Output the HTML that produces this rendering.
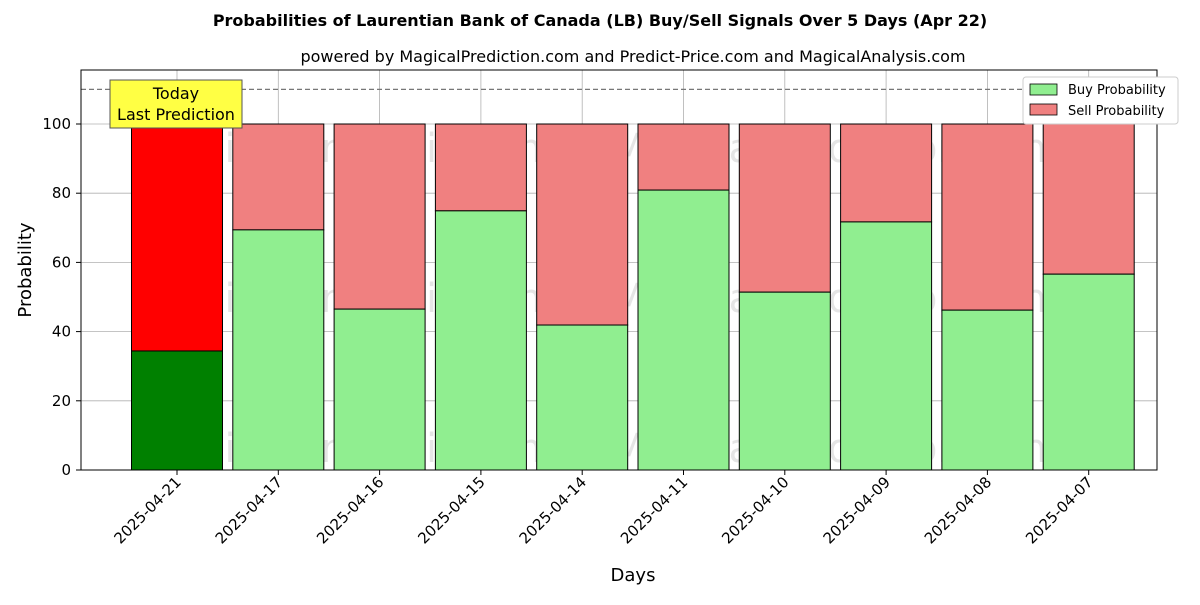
<!DOCTYPE html>
<html><head><meta charset="utf-8"><style>
body{margin:0;background:#fff;font-family:"Liberation Sans","DejaVu Sans",sans-serif}
svg text{font-family:"DejaVu Sans","Liberation Sans",sans-serif}
</style></head><body>
<svg id="chart" width="1200" height="600" viewBox="0 0 1200 600" xmlns="http://www.w3.org/2000/svg">
<rect width="1200" height="600" fill="#fff"/>
<text x="600" y="26" text-anchor="middle" font-size="16" font-weight="bold">Probabilities of Laurentian Bank of Canada (LB) Buy/Sell Signals Over 5 Days (Apr 22)</text>
<text x="633" y="62" text-anchor="middle" font-size="16">powered by MagicalPrediction.com and Predict-Price.com and MagicalAnalysis.com</text>
<g id="grid"></g>
<g id="watermarks" font-size="40" fill="#000" fill-opacity="0.1">
<text x="348" y="162" text-anchor="middle">MagicalAnalysis.com</text>
<text x="836" y="162" text-anchor="middle">MagicalPrediction.com</text>
<text x="348" y="312" text-anchor="middle">MagicalAnalysis.com</text>
<text x="836" y="312" text-anchor="middle">MagicalPrediction.com</text>
<text x="348" y="462" text-anchor="middle">MagicalAnalysis.com</text>
<text x="836" y="462" text-anchor="middle">MagicalPrediction.com</text>
</g>
<g id="bars"></g>
<line x1="81" x2="1157" y1="89.4" y2="89.4" stroke="#777" stroke-dasharray="5,3" stroke-width="1.2"/>
<rect x="81" y="70" width="1076" height="400" fill="none" stroke="#000" stroke-width="1"/>
<g id="axes"></g>
<g>
<rect x="110" y="80" width="132" height="48" fill="#ffff44" stroke="#555" stroke-width="1"/>
<text x="176" y="99" text-anchor="middle" font-size="16">Today</text>
<text x="176" y="120" text-anchor="middle" font-size="16">Last Prediction</text>
</g>
<g>
<rect x="1023" y="77" width="155" height="47" fill="#fff" stroke="#ccc" rx="3"/>
<rect x="1030" y="84" width="27" height="11" fill="#90ee90" stroke="#000" stroke-width="0.8"/>
<text x="1068" y="94" font-size="13">Buy Probability</text>
<rect x="1030" y="104" width="27" height="11" fill="#f08080" stroke="#000" stroke-width="0.8"/>
<text x="1068" y="115" font-size="13">Sell Probability</text>
</g>
<text x="633" y="581" text-anchor="middle" font-size="18">Days</text>
<text transform="translate(31,270) rotate(-90)" text-anchor="middle" font-size="18">Probability</text>
</svg>
<script>
const categories=["2025-04-21","2025-04-17","2025-04-16","2025-04-15","2025-04-14","2025-04-11","2025-04-10","2025-04-09","2025-04-08","2025-04-07"];
const buyValues=[34.4,69.4,46.5,74.9,41.9,80.9,51.4,71.7,46.2,56.6];
const yTicks=[0,20,40,60,80,100];
const NS="http://www.w3.org/2000/svg";
const x=i=>177+i*101.3;
const y=v=>470-v*3.46;
function mk(tag,attrs,parent){const e=document.createElementNS(NS,tag);for(const k in attrs)e.setAttribute(k,attrs[k]);parent.appendChild(e);return e;}
const grid=document.getElementById('grid'),bars=document.getElementById('bars'),axes=document.getElementById('axes');
yTicks.forEach(t=>{
 const l=mk('line',{x1:81,x2:1157,y1:y(t),y2:y(t),stroke:'#b0b0b0','stroke-width':0.8},grid);
 
 
 mk('line',{x1:76,x2:81,y1:y(t),y2:y(t),stroke:'#000'},axes);
 const tx=mk('text',{x:71,y:y(t)+5,'text-anchor':'end','font-size':15},axes);tx.textContent=t;
 
 
});
categories.forEach((c,i)=>{
 const cx=x(i);
 const g=mk('line',{x1:cx,x2:cx,y1:70,y2:470,stroke:'#b0b0b0','stroke-width':0.8},grid);
 
 
 const b=buyValues[i],w=91;
 const s=mk('rect',{x:cx-w/2,y:y(100),width:w,height:y(b)-y(100),fill:i==0?'#ff0000':'#f08080',stroke:'#000','stroke-width':1},bars);
 
 
 const r=mk('rect',{x:cx-w/2,y:y(b),width:w,height:y(0)-y(b),fill:i==0?'#008000':'#90ee90',stroke:'#000','stroke-width':1},bars);
 
 
 mk('line',{x1:cx,x2:cx,y1:470,y2:475,stroke:'#000'},axes);
 const t=mk('text',{transform:`translate(${cx+5},${483}) rotate(-45)`,'text-anchor':'end','font-size':15},axes);t.textContent=c;
 
 
});
</script>
</body></html>
